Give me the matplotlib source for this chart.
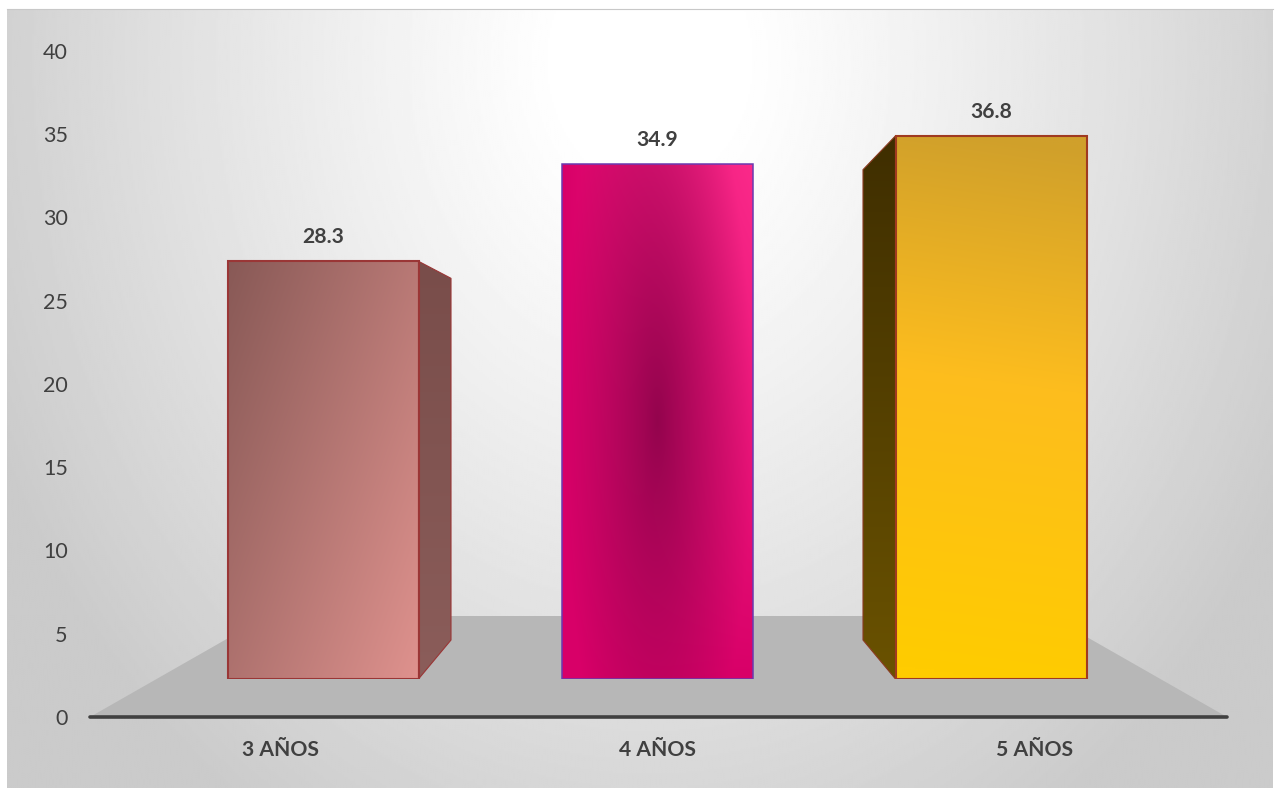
import numpy as np
import matplotlib
matplotlib.use("Agg")
import matplotlib.pyplot as plt
from matplotlib.colors import to_rgb
from matplotlib.patches import Polygon

categories = ["3 AÑOS", "4 AÑOS", "5 AÑOS"]
values = [28.3, 34.9, 36.8]
y_ticks = [0, 5, 10, 15, 20, 25, 30, 35, 40]

W, H = 1280, 788
plt.rcParams["font.family"] = ["Lato", "DejaVu Sans"]
TXT = "#404040"
fig = plt.figure(figsize=(W / 100, H / 100), dpi=100, facecolor="white")

def rect(l, t, r, b):
    return [l / W, 1 - b / H, (r - l) / W, (b - t) / H]

# ---- background panel
bg = fig.add_axes(rect(7, 9, 1273, 788))
bg.set_axis_off()
yy, xx = np.mgrid[9:788:390j, 7:1273:640j]
d = np.sqrt(((xx - 650) / 720) ** 2 + ((yy - 60) / 900) ** 2)
dd = np.clip(d - 0.12, 0, None) / 0.88
g = np.clip(255 - 52 * dd ** 1.1, 203, 255) / 255
bg.imshow(g, cmap="gray", vmin=0, vmax=1, aspect="auto", interpolation="bilinear",
          extent=(0, 1, 0, 1))
fig.add_artist(plt.Line2D([7 / W, 1273 / W], [1 - 9 / H, 1 - 9 / H], color="#c8c8c8", lw=0.8))

# ---- main value axes
ax = fig.add_axes(rect(90, 51, 1227, 717), facecolor="none")
ax.set_ylim(0, 40)
ax.set_xlim((90 - 280) / 377.5, (1227 - 280) / 377.5)
ax.set_yticks(y_ticks)
ax.set_xticks(range(len(categories)))
ax.set_xticklabels(categories, fontweight="bold")
ax.tick_params(axis="y", length=0, pad=16, labelsize=15.5, labelcolor=TXT)
ax.tick_params(axis="x", length=0, pad=16.5, labelsize=15.2, labelcolor=TXT)
for s in ("top", "left", "right", "bottom"):
    ax.spines[s].set_visible(False)
floor_depth = 101 / 666 * 40
x0, x1 = ax.get_xlim()
inset = 177 / 377.5
ax.add_patch(Polygon([(x0, 0), (x1, 0), (x1 - inset, floor_depth), (x0 + inset, floor_depth)],
                     closed=True, fc="#b7b7b7", ec="none", zorder=1))
ax.plot([x0, x1], [0, 0], color="#404040", lw=2.6, solid_capstyle="round", zorder=2, clip_on=False)

# ---- bars axes (front plane)
front = 14.76
axb = fig.add_axes(rect(90, 679 - front * 40, 1227, 679), facecolor="none")
axb.set_axis_off()
axb.set_ylim(0, 40)
xl = ((90 - 323) / 334, (1227 - 323) / 334)
axb.set_xlim(*xl)
bar_w = 191 / 334
depth_x = 32.5 / 334
back_base = 39 / front
back_scale = 12.78 / front

def face(img, pts, edge, ext, lw=1.5):
    im = axb.imshow(img, aspect="auto", extent=ext, interpolation="bilinear", zorder=3)
    axb.add_patch(Polygon(pts, closed=True, fc="none", ec=edge, lw=lw, zorder=4, joinstyle="miter"))
    im.set_clip_path(Polygon(pts, closed=True, transform=axb.transData))

def mix(a, b, t):
    a, b = np.array(to_rgb(a)), np.array(to_rgb(b))
    t = np.clip(np.asarray(t), 0, 1)[..., None]
    return a * (1 - t) + b * t

N = 200
v, u = np.mgrid[1:0:N * 1j, 0:1:N * 1j]  # v = 1 top, u = 1 right

t1 = u * 0.56 + (1 - v) * 0.44
img1 = mix("#885956", "#df928e", t1)

un, vn = 2 * u - 1, 2 * v - 1
r = np.clip(np.sqrt(un ** 2 + (0.62 * vn) ** 2), 0, 1) ** 0.9
outer = mix("#d80068", "#fb2a8a", np.clip(u * v, 0, 1) ** 0.9)
img2 = mix("#93044d", "#93044d", r) * (1 - r[..., None]) + outer * r[..., None]

vt = v + 0.05 * (u - 0.5)
img3 = np.where((vt > 0.55)[..., None],
                mix("#fdbd1e", "#d0a02b", (vt - 0.55) / 0.45),
                mix("#ffcc00", "#fdbd1e", vt / 0.55))
imgs = [img1, img2, img3]
edges = ["#9a3636", "#6a3ab0", "#a03a20"]
widths = [1.5, 1.1, 1.5]

for i, val in enumerate(values):
    l, r_ = i - bar_w / 2, i + bar_w / 2
    front_pts = [(l, 0), (r_, 0), (r_, val), (l, val)]
    if i == 0:
        sp = [(r_, 0), (r_ + depth_x, back_base), (r_ + depth_x, back_base + back_scale * val), (r_, val)]
        face(mix("#794d4a", "#8b5d5a", 1 - v), sp, "#9a3636", (r_, r_ + depth_x, 0, val), lw=0.8)
    if i == 2:
        sp = [(l, 0), (l - depth_x, back_base), (l - depth_x, back_base + back_scale * val), (l, val)]
        face(mix("#6a5200", "#3f2e00", v), sp, "#8a3a20", (l - depth_x, l, 0, val), lw=0.8)
    face(imgs[i], front_pts, edges[i], (l, r_, 0, val), lw=widths[i])
    axb.annotate(f"{val:.1f}", (i, val), xytext=(0, 17.2), textcoords="offset points",
                 ha="center", va="center", fontsize=15.2, fontweight="bold", color=TXT, zorder=6)
axb.set_xlim(*xl)
axb.set_ylim(0, 40)

fig.savefig("out.png", dpi=100, facecolor="white")
